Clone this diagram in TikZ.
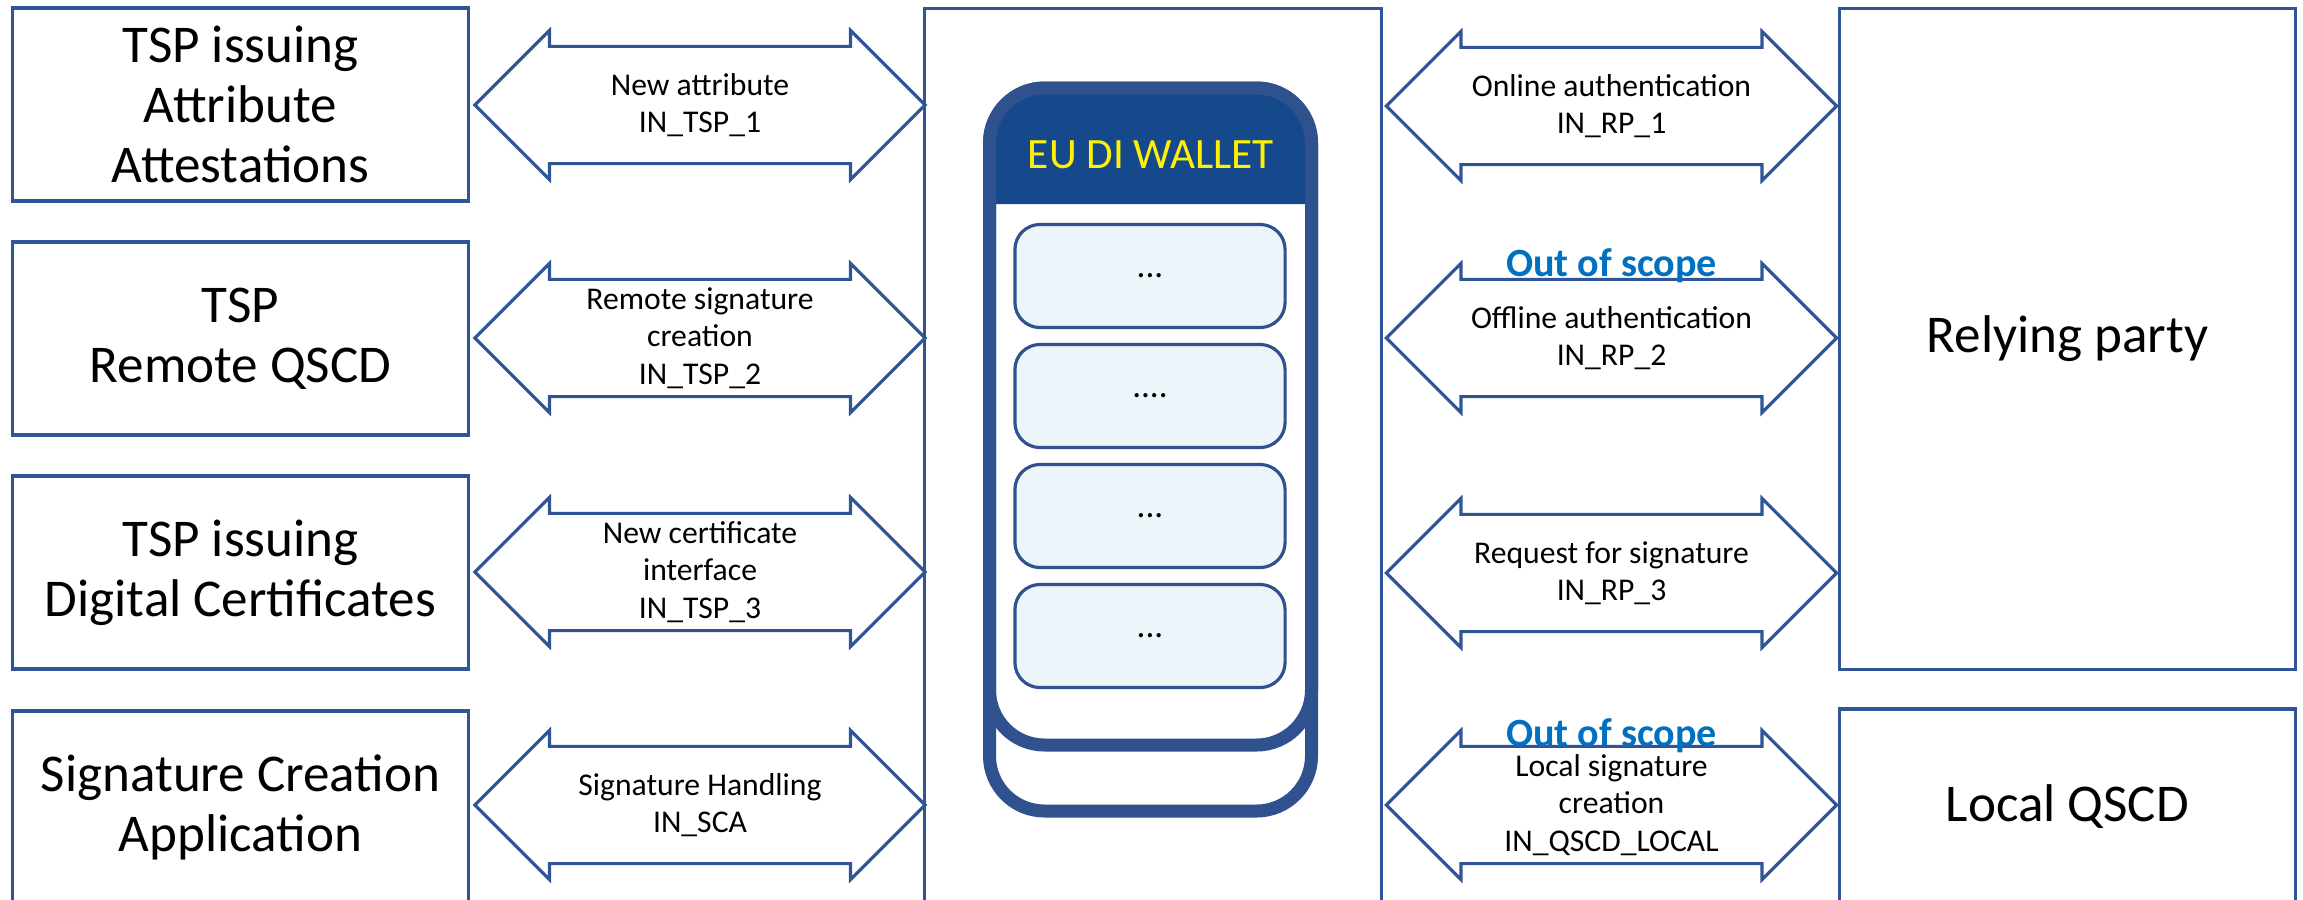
\documentclass[tikz,border=0pt]{standalone}
\usepackage{fontspec}
\setmainfont{Carlito}
\usepackage{tikz}
\usetikzlibrary{calc, shapes.arrows}
\definecolor{boxblue}{RGB}{47,85,151}
\definecolor{walletblue}{RGB}{47,82,143}
\definecolor{headblue}{RGB}{22,72,140}
\definecolor{slotfill}{RGB}{236,245,249}
\definecolor{scopeblue}{RGB}{0,112,192}
\tikzset{%
  party/.style={draw=boxblue, line width=0.9pt, rectangle, minimum width=4.55cm,
    minimum height=1.93cm, inner sep=1pt, align=center,
    font=\fontsize{15.1}{17.1}\selectfont},% party outside the wallet
  iface/.style={draw=boxblue, line width=0.9pt, fill=white, shape=double arrow,
    double arrow tip angle=90, double arrow head extend=0.16cm,
    minimum height=4.5cm, inner xsep=0pt, inner ysep=0.57cm},% interface arrow
  ifacetext/.style={align=center, inner sep=0pt, font=\fontsize{9}{10.6}\selectfont},% interface label
  outscope/.style={text=scopeblue, inner sep=0pt, font=\fontsize{11.4}{13}\selectfont\bfseries},% out of scope mark
  walletframe/.style={draw=walletblue, line width=3.7pt, rounded corners=0.55cm},% wallet outline
  slot/.style={draw=walletblue, line width=0.9pt, fill=slotfill, rectangle,
    rounded corners=0.25cm, minimum width=2.7cm, minimum height=1.03cm,
    font=\fontsize{10}{11}\selectfont}% wallet slot
}

\begin{document}
\begin{tikzpicture}[x=0.01cm, y=-0.01cm]
\useasboundingbox (0,0) rectangle (2303,899);
\def\xl{700}
\def\xr{1611.5}
\node[party] (attr) at (240.5,104.5) {TSP issuing\\Attribute\\Attestations};
\node[party] (rqscd) at (240.5,338.5) {TSP\\Remote QSCD};
\node[party] (cert) at (240.5,572.5) {TSP issuing\\Digital Certificates};
\node[party] (sca) at (240.5,807.5) {Signature Creation\\Application};
\node[party, minimum width=4.56cm, minimum height=8.95cm] (hub) at (1153,456.5) {};
\node[party, minimum height=6.6cm] (rp) at (2067.5,339) {Relying party};
\node[party, minimum height=1.95cm] (lqscd) at (2067.5,806.5) {Local QSCD};

\node[iface] (newattr) at (\xl,105) {};
\node[ifacetext] (newattrl) at (newattr) {New attribute\\IN\_TSP\_1};
\node[iface] (remsig) at (\xl,338) {};
\node[ifacetext] (remsigl) at (remsig) {Remote signature\\creation\\IN\_TSP\_2};
\node[iface] (newcert) at (\xl,572) {};
\node[ifacetext] (newcertl) at (newcert) {New certificate\\interface\\IN\_TSP\_3};
\node[iface] (sighand) at (\xl,805) {};
\node[ifacetext] (sighandl) at (sighand) {Signature Handling\\IN\_SCA};

\node[iface] (online) at (\xr,106) {};
\node[ifacetext] (onlinel) at (online) {Online authentication\\IN\_RP\_1};
\node[iface] (offline) at (\xr,338) {};
\node[ifacetext] (offlinel) at (offline) {Offline authentication\\IN\_RP\_2};
\node[outscope] (offscope) at (\xr,266) {Out of scope};
\node[iface] (sigreq) at (\xr,573) {};
\node[ifacetext] (sigreql) at (sigreq) {Request for signature\\IN\_RP\_3};
\node[iface] (local) at (\xr,805) {};
\node[ifacetext] (locall) at (local) {Local signature\\creation\\IN\_QSCD\_LOCAL};
\node[outscope] (localscope) at (\xr,736) {Out of scope};

% wallet
\draw[walletframe, fill=white] (989.5,88) rectangle (1311.5,811);
\fill[headblue] (989.5,204) [rounded corners=0.55cm] -- (989.5,88) -- (1311.5,88)
  [sharp corners] -- (1311.5,204) -- cycle;
\draw[walletframe] (989.5,88) rectangle (1311.5,745);
\node[text=yellow, font=\fontsize{12.3}{14}\selectfont] (wtitle) at (1151,155) {EU DI WALLET};
\node[slot] (slot1) at (1150,276) {...};
\node[slot] (slot2) at (1150,396) {....};
\node[slot] (slot3) at (1150,516) {...};
\node[slot] (slot4) at (1150,636) {...};
\end{tikzpicture}
\end{document}
